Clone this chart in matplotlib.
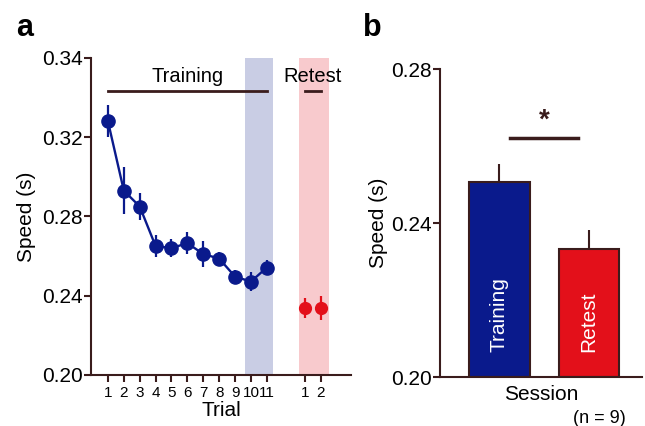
import matplotlib
matplotlib.use("Agg")
import matplotlib.pyplot as plt

plt.rcParams['font.family'] = ['Liberation Sans', 'DejaVu Sans']

# panel a data
trials = [1, 2, 3, 4, 5, 6, 7, 8, 9, 10, 11]
train_speed = [0.328, 0.293, 0.285, 0.265, 0.264, 0.2665, 0.261, 0.2587, 0.2496, 0.2471, 0.2542]
train_err = [0.008, 0.012, 0.007, 0.0055, 0.0045, 0.0055, 0.0065, 0.0035, 0.0035, 0.005, 0.004]
retest_pos = [13.4, 14.4]
retest_labels = ['1', '2']
retest_speed = [0.2337, 0.2337]
retest_err = [0.005, 0.006]

# panel b data
sessions = ['Training', 'Retest']
session_speed = [0.2507, 0.2332]
session_err = [0.0046, 0.0051]

navy = '#0a1a8c'
red = '#e3101a'
brown = '#3a1c1c'

fig = plt.figure(figsize=(6.45, 4.26), dpi=100)

# ---- panel a ----
ax = fig.add_axes([0.141, 0.120, 0.403, 0.744])
ax.axvspan(9.63, 11.4, color='#c9cde4', lw=0)
ax.axvspan(13.04, 14.93, color='#f8cacd', lw=0)
ax.errorbar(trials, train_speed, yerr=train_err, color=navy, marker='o', ms=9.5,
            lw=1.7, elinewidth=1.6, capsize=0)
ax.errorbar(retest_pos, retest_speed, yerr=retest_err, color=red, marker='o', ms=8.5,
            lw=0, elinewidth=1.6, capsize=0)

ax.plot([trials[0], trials[-1]], [0.3434, 0.3434], color=brown, lw=2)
ax.plot(retest_pos, [0.3434, 0.3434], color=brown, lw=2)
ax.text(6, 0.3458, 'Training', ha='center', va='bottom', fontsize=14.5)
ax.text(13.9, 0.3458, 'Retest', ha='center', va='bottom', fontsize=14.5)

ax.set_xlim(-0.07, 16.29)
ax.set_ylim(0.20, 0.36)
ax.set_yticks([0.20, 0.24, 0.28, 0.32, 0.36])
ax.set_yticklabels(['0.20', '0.24', '0.28', '0.32', '0.34'])
ax.set_xticks(trials + retest_pos)
ax.set_xticklabels([str(t) for t in trials] + retest_labels)
ax.tick_params(axis='y', labelsize=15, color=brown, width=1.5, length=5, pad=1)
ax.tick_params(axis='x', labelsize=11, color=brown, width=1.5, length=5, pad=3)
for s in ['top', 'right']:
    ax.spines[s].set_visible(False)
for s in ['left', 'bottom']:
    ax.spines[s].set_color(brown)
    ax.spines[s].set_linewidth(1.5)
ax.set_xlabel('Trial', fontsize=15, labelpad=1)
ax.set_ylabel('Speed (s)', fontsize=15, labelpad=4)
fig.text(0.025, 0.915, 'a', fontsize=22, fontweight='bold')

# ---- panel b ----
bx = fig.add_axes([0.682, 0.115, 0.313, 0.723])
xpos = [0, 1]
bx.bar(xpos, [v - 0.2 for v in session_speed], bottom=0.2, width=0.68,
       color=[navy, red], edgecolor=brown, lw=1.5, zorder=2)
bx.errorbar(xpos, session_speed, yerr=[[0, 0], session_err], fmt='none',
            ecolor=brown, elinewidth=1.5, capsize=0, zorder=1)
for x, name in zip(xpos, sessions):
    bx.text(x, 0.2065, name, rotation=90, color='white',
            ha='center', va='bottom', fontsize=15)
bx.plot([0.12, 0.88], [0.262, 0.262], color=brown, lw=2.5)
bx.text(0.5, 0.2632, '*', ha='center', va='bottom', fontsize=20, fontweight='bold',
        color=brown)

bx.set_xlim(-0.665, 1.59)
bx.set_ylim(0.20, 0.28)
bx.set_yticks([0.20, 0.24, 0.28])
bx.set_yticklabels(['0.20', '0.24', '0.28'])
bx.set_xticks([])
bx.tick_params(axis='y', labelsize=15, color=brown, width=1.5, length=5, pad=1)
for s in ['top', 'right']:
    bx.spines[s].set_visible(False)
for s in ['left', 'bottom']:
    bx.spines[s].set_color(brown)
    bx.spines[s].set_linewidth(1.5)
bx.set_xlabel('Session', fontsize=15, labelpad=6)
bx.set_ylabel('Speed (s)', fontsize=15, labelpad=2)
fig.text(0.93, 0.008, '(n = 9)', ha='center', fontsize=13)
fig.text(0.563, 0.915, 'b', fontsize=22, fontweight='bold')

fig.savefig('out.png', dpi=100)
